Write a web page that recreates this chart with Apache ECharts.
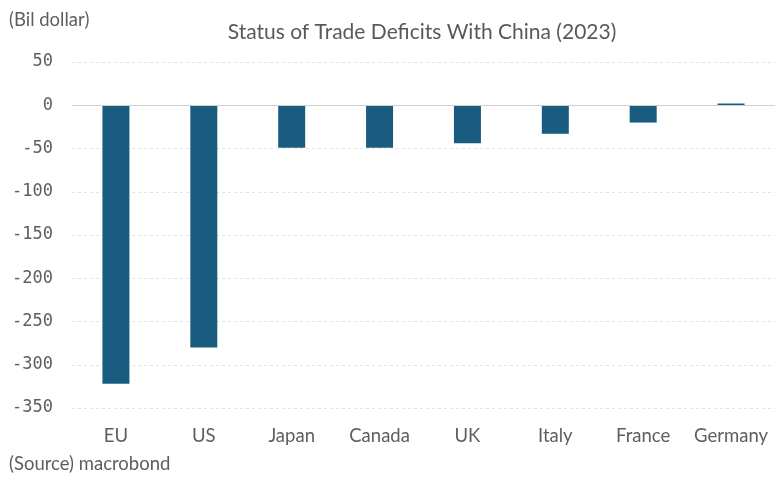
<!DOCTYPE html>
<html>
<head>
<meta charset="utf-8">
<script src="https://cdn.jsdelivr.net/npm/echarts@6/dist/echarts.min.js"></script>
<style>
  html, body { margin: 0; padding: 0; background: #fff; }
  #chart { width: 782px; height: 480px; }
</style>
</head>
<body>
<div id="chart"></div>
<script>
// Trade balance with China, 2023 (billion USD)
const countries = ['EU', 'US', 'Japan', 'Canada', 'UK', 'Italy', 'France', 'Germany'];
const balances = [-322, -280, -49, -49, -44, -33, -20, 2];
const yTicks = [50, 0, -50, -100, -150, -200, -250, -300, -350];

const chart = echarts.init(document.getElementById('chart'));
chart.setOption({
  animation: false,
  backgroundColor: '#ffffff',
  title: {
    text: 'Status of Trade Deficits With China (2023)',
    left: 417,
    textAlign: 'center',
    top: 17,
    textStyle: { fontFamily: 'Lato', fontSize: 21, fontWeight: 'normal', color: '#595959' }
  },
  graphic: [
    { type: 'text', left: 9, top: 11, style: { text: '(Bil dollar)', fontFamily: 'Lato', fontSize: 18.5, fill: '#5e5e5e' } },
    { type: 'text', left: 9, top: 455, style: { text: '(Source) macrobond', fontFamily: 'Lato', fontSize: 18.5, fill: '#5e5e5e' } }
  ],
  grid: { left: 72, right: 7, top: 62, bottom: 72, containLabel: false },
  xAxis: {
    type: 'category',
    data: countries,
    axisLine: { show: false },
    axisTick: { show: false },
    axisLabel: { interval: 0, margin: 19, fontFamily: 'Lato', fontSize: 18.5, color: '#5e5e5e' }
  },
  yAxis: {
    type: 'value',
    min: yTicks[yTicks.length - 1],
    max: yTicks[0],
    interval: 50,
    axisLine: { show: false },
    axisTick: { show: false },
    axisLabel: { margin: 19, fontFamily: 'DejaVu Sans Mono', fontSize: 17, color: '#5e5e5e' },
    splitLine: { lineStyle: { color: '#e3e3e3', type: [3, 3], width: 1 } }
  },
  series: [{
    type: 'bar',
    data: balances,
    barWidth: 27,
    itemStyle: { color: '#1a5c80' },
    markLine: {
      silent: true,
      symbol: 'none',
      label: { show: false },
      lineStyle: { color: '#d0d0d0', type: 'solid', width: 1 },
      data: [{ yAxis: 0 }]
    },
    z: 3
  }]
});
</script>
</body>
</html>
